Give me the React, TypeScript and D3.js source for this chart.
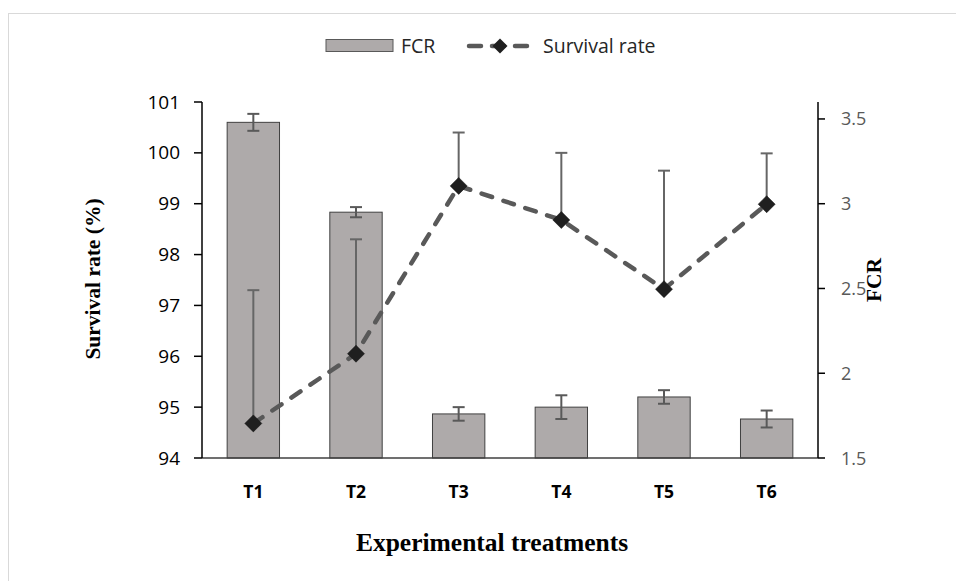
import React from "react";
import * as d3 from "d3";

const treatments = ["T1", "T2", "T3", "T4", "T5", "T6"];
const fcr = [3.48, 2.95, 1.76, 1.8, 1.86, 1.73];
const fcrErr = [0.05, 0.03, 0.04, 0.07, 0.04, 0.05];
const survival = [94.68, 96.05, 99.35, 98.68, 97.32, 98.99];
const survivalErr = [2.62, 2.25, 1.05, 1.32, 2.33, 1.0];
const leftTicks = [94, 95, 96, 97, 98, 99, 100, 101];
const rightTicks = [1.5, 2, 2.5, 3, 3.5];

const sans = "'Open Sans', sans-serif";
const serif = "'Liberation Serif', 'Times New Roman', serif";

const App = () => {
  const width = 956,
    height = 581;
  const left = 202,
    right = 818,
    top = 102,
    bottom = 458;

  const x = d3
    .scaleBand<string>()
    .domain(treatments)
    .range([left, right])
    .paddingInner(0.49)
    .paddingOuter(0.245);
  const yL = d3.scaleLinear().domain([94, 101]).range([bottom, top]);
  const yR = d3.scaleLinear().domain([1.5, 3.6]).range([bottom, top]);

  const cx = (t: string) => (x(t) as number) + x.bandwidth() / 2;

  const line = d3
    .line<number>()
    .x((_, i) => cx(treatments[i]))
    .y((d) => yL(d));

  const diamond = (px: number, py: number, r: number) =>
    `M${px},${py - r}L${px + r},${py}L${px},${py + r}L${px - r},${py}Z`;

  const cap = 6;

  return (
    <svg
      width={width}
      height={height}
      style={{ position: "absolute", left: 0, top: 0, background: "#fff" }}
    >
      {/* outer frame */}
      <rect x={8.5} y={13.5} width={970} height={600} fill="#fff" stroke="#d9d9d9" />

      {/* legend */}
      <rect x={326} y={39.5} width={67} height={12} fill="#aeaaaa" stroke="#595959" strokeWidth={1} />
      <text x={401} y={53} fontFamily={sans} fontSize={19.5} fill="#262626">
        FCR
      </text>
      <line
        x1={469}
        x2={531}
        y1={46}
        y2={46}
        stroke="#595959"
        strokeWidth={4.5}
        strokeLinecap="round"
        strokeDasharray="12,11"
      />
      <path d={diamond(500, 46, 7.5)} fill="#1f1f1f" />
      <text x={543} y={53} fontFamily={sans} fontSize={19.5} fill="#262626">
        Survival rate
      </text>

      {/* bars */}
      {treatments.map((t, i) => (
        <rect
          key={t}
          x={x(t)}
          y={yR(fcr[i])}
          width={x.bandwidth()}
          height={bottom - yR(fcr[i])}
          fill="#aeaaaa"
          stroke="#404040"
          strokeWidth={1}
        />
      ))}

      {/* FCR error bars */}
      {treatments.map((t, i) => {
        const c = cx(t);
        const y1 = yR(fcr[i] + fcrErr[i]);
        const y2 = yR(fcr[i] - fcrErr[i]);
        return (
          <g key={"fe" + t} stroke="#595959" strokeWidth={2}>
            <line x1={c} x2={c} y1={y1} y2={y2} />
            <line x1={c - cap} x2={c + cap} y1={y1} y2={y1} />
            <line x1={c - cap} x2={c + cap} y1={y2} y2={y2} />
          </g>
        );
      })}

      {/* survival error bars (upper) */}
      {treatments.map((t, i) => {
        const c = cx(t);
        const y1 = yL(survival[i] + survivalErr[i]);
        return (
          <g key={"se" + t} stroke="#666666" strokeWidth={2}>
            <line x1={c} x2={c} y1={y1} y2={yL(survival[i])} />
            <line x1={c - cap} x2={c + cap} y1={y1} y2={y1} />
          </g>
        );
      })}

      {/* survival line */}
      <path
        d={line(survival) || ""}
        fill="none"
        stroke="#595959"
        strokeWidth={4.5}
        strokeLinecap="round"
        strokeDasharray="11,12"
      />
      {survival.map((v, i) => (
        <path key={"m" + i} d={diamond(cx(treatments[i]), yL(v), 8.5)} fill="#1f1f1f" stroke="#111" strokeWidth={0.5} />
      ))}

      {/* x axis */}
      <line x1={left} x2={right} y1={bottom} y2={bottom} stroke="#404040" strokeWidth={1.5} />
      {treatments.map((t) => (
        <text
          key={"xl" + t}
          x={cx(t)}
          y={498}
          textAnchor="middle"
          fontFamily={sans}
          fontWeight="bold"
          fontSize={17.5}
          fill="#000"
        >
          {t}
        </text>
      ))}

      {/* left axis */}
      <line x1={left} x2={left} y1={top} y2={bottom} stroke="#000" strokeWidth={1.5} />
      {leftTicks.map((v) => (
        <g key={"lt" + v}>
          <line x1={left - 8} x2={left} y1={yL(v)} y2={yL(v)} stroke="#000" strokeWidth={1.5} />
          <text
            x={180}
            y={yL(v) + 6.5}
            textAnchor="end"
            fontFamily={sans}
            fontSize={19}
            fill="#000"
          >
            {v}
          </text>
        </g>
      ))}

      {/* right axis */}
      <line x1={right} x2={right} y1={top} y2={bottom} stroke="#000" strokeWidth={1.5} />
      {rightTicks.map((v) => (
        <g key={"rt" + v}>
          <line x1={right} x2={right + 7} y1={yR(v)} y2={yR(v)} stroke="#000" strokeWidth={1.5} />
          <text x={841} y={yR(v) + 6.5} fontFamily={sans} fontSize={18} fill="#595959">
            {v}
          </text>
        </g>
      ))}

      {/* axis titles */}
      <text
        transform={`translate(100,${279}) rotate(-90)`}
        textAnchor="middle"
        fontFamily={serif}
        fontWeight="bold"
        fontSize={21.5}
        fill="#000"
      >
        Survival rate (%)
      </text>
      <text
        transform={`translate(881,${280}) rotate(-90)`}
        textAnchor="middle"
        fontFamily={serif}
        fontWeight="bold"
        fontSize={21.5}
        fill="#000"
      >
        FCR
      </text>
      <text
        x={492}
        y={551}
        textAnchor="middle"
        fontFamily={serif}
        fontWeight="bold"
        fontSize={25.5}
        fill="#000"
      >
        Experimental treatments
      </text>
    </svg>
  );
};

export default App;
